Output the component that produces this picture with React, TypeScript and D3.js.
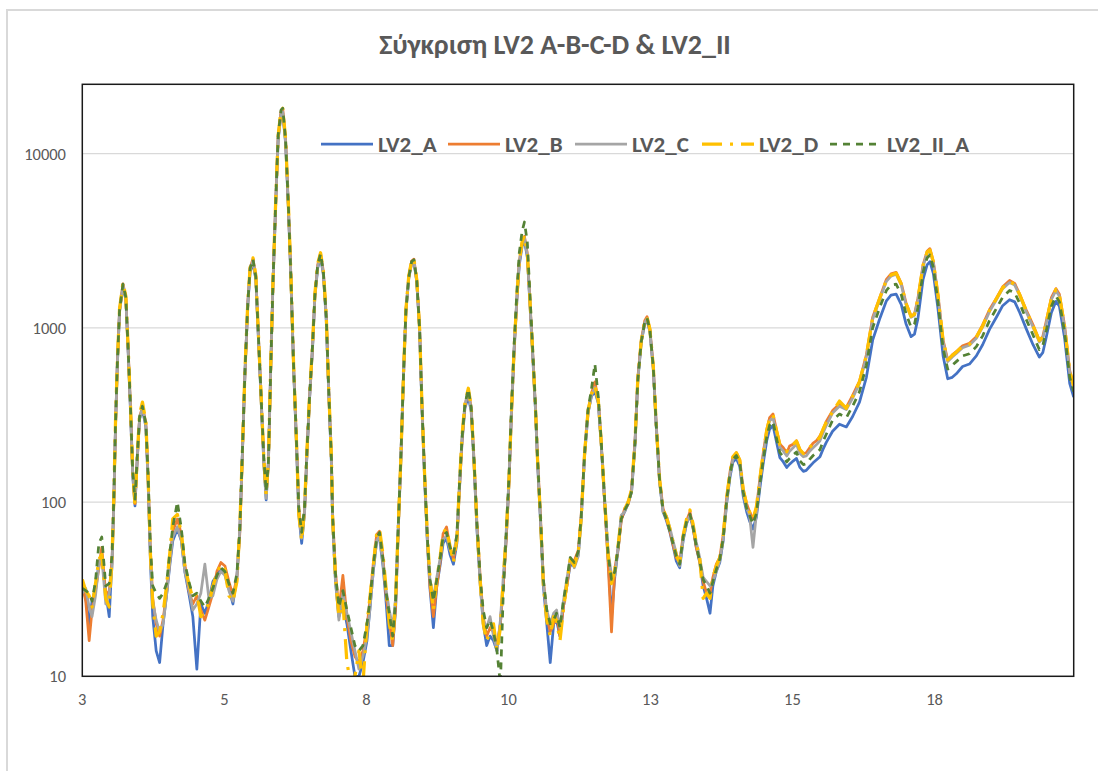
import React from "react";
import * as d3 from "d3";

// 2θ positions (degrees) shared by all five diffraction traces
const twoTheta = [
  3.00, 3.06, 3.12, 3.17, 3.23, 3.29, 3.34, 3.41, 3.47, 3.52,
  3.55, 3.58, 3.61, 3.65, 3.71, 3.76, 3.80, 3.84, 3.88, 3.92,
  3.96, 4.00, 4.05, 4.11, 4.15, 4.19, 4.23, 4.29, 4.35, 4.41,
  4.47, 4.53, 4.58, 4.66, 4.73, 4.79, 4.86, 4.93, 5.00, 5.07,
  5.14, 5.21, 5.28, 5.35, 5.42, 5.49, 5.56, 5.63, 5.70, 5.75,
  5.79, 5.84, 5.89, 5.93, 5.98, 6.03, 6.07, 6.12, 6.17, 6.21,
  6.25, 6.29, 6.33, 6.38, 6.42, 6.47, 6.50, 6.55, 6.60, 6.64,
  6.69, 6.74, 6.78, 6.83, 6.88, 6.92, 6.97, 7.02, 7.06, 7.11,
  7.16, 7.21, 7.26, 7.30, 7.35,
  7.37, 7.42, 7.48, 7.55, 7.62, 7.69, 7.76, 7.83, 7.90, 7.97,
  8.02, 8.08, 8.14, 8.19, 8.25, 8.30, 8.36, 8.42, 8.47, 8.51,
  8.56, 8.61, 8.65, 8.70, 8.75, 8.79, 8.84, 8.89, 8.93, 8.98,
  9.03, 9.07, 9.13, 9.19, 9.25, 9.30, 9.36, 9.42, 9.48, 9.54,
  9.58, 9.63, 9.68, 9.74, 9.79, 9.84, 9.89, 9.95, 10.00, 10.06,
  10.12, 10.18, 10.24, 10.30, 10.35, 10.40, 10.45, 10.49, 10.54, 10.59,
  10.63, 10.68, 10.72, 10.77, 10.81, 10.86, 10.91, 10.95, 11.00, 11.05,
  11.11, 11.17, 11.23, 11.28, 11.34, 11.40, 11.46, 11.52, 11.59, 11.66,
  11.71, 11.77, 11.83, 11.89, 11.95, 12.01, 12.06, 12.12, 12.18, 12.24,
  12.30, 12.36, 12.41, 12.47, 12.53, 12.59, 12.65, 12.70, 12.76, 12.82,
  12.86, 12.91, 12.97, 13.02, 13.08, 13.14, 13.20, 13.26, 13.32, 13.37,
  13.43, 13.49, 13.55, 13.61, 13.66, 13.72, 13.78, 13.84, 13.90, 13.96,
  14.01, 14.07, 14.13, 14.19, 14.25, 14.31, 14.36, 14.42, 14.48, 14.54,
  14.60, 14.65, 14.71, 14.77, 14.83, 14.89, 14.95, 15.00, 15.06, 15.12,
  15.18, 15.24, 15.30, 15.35, 15.41, 15.47, 15.53, 15.59, 15.64, 15.70,
  15.76, 15.82, 15.88, 15.93, 15.99,
  16.10, 16.22, 16.34, 16.45, 16.57, 16.69, 16.80, 16.92, 17.04, 17.12,
  17.21, 17.30, 17.38, 17.47, 17.53, 17.59, 17.68, 17.75, 17.80, 17.86,
  17.94, 18.03, 18.11, 18.19, 18.26, 18.37, 18.49, 18.61, 18.72, 18.84,
  18.96, 19.07, 19.19, 19.28, 19.36, 19.48, 19.60, 19.71, 19.77, 19.83,
  19.92, 20.00, 20.06, 20.15, 20.24, 20.31,
];

const lv2A = [
  33, 28, 20, 27, 32, 44, 50, 30, 22, 47,
  100, 272, 590, 1240, 1720, 1450, 740, 345, 142, 95,
  176, 300, 340, 270, 128, 45, 22, 14, 12, 20,
  29, 44, 60, 70, 60, 40, 30, 22, 11, 26,
  23, 27, 35, 38, 41, 39, 32, 26, 38, 68,
  168, 550, 1360, 2100, 2350, 1900, 950, 400, 165, 103,
  170, 585, 1830, 5450, 12000, 16800, 17000, 11400, 4700, 2000,
  580, 210, 85, 58, 86, 180, 400, 760, 1480, 2200,
  2550, 2000, 1100, 445, 165,
  80, 35, 22, 26, 20, 14, 10, 10, 12, 16,
  24, 40, 60, 62, 43, 28, 15, 15, 24, 60,
  165, 545, 1230, 1920, 2340, 2400, 1830, 960, 350, 128,
  54, 32, 19, 33, 44, 58, 62, 50, 44, 58,
  110, 220, 345, 405, 330, 165, 70, 33, 20, 15,
  17, 16, 14, 20, 33, 60, 128, 300, 740, 1480,
  2300, 2950, 3150, 2550, 1490, 740, 350, 165, 78, 33,
  20, 12, 20, 21, 17, 25, 33, 44, 43, 50,
  80, 185, 325, 405, 430, 370, 215, 100, 48, 22,
  38, 55, 80, 88, 98, 114, 215, 505, 830, 1060,
  1100, 955, 580, 275, 130, 88, 78, 67, 55, 46,
  42, 60, 75, 84, 72, 55, 45, 33, 28, 23,
  33, 40, 45, 60, 98, 140, 170, 178, 160, 108,
  88, 78, 70, 82, 120, 168, 225, 262, 275, 222,
  180, 170, 158, 165, 172, 178, 158, 150, 152, 160,
  168, 175, 182, 200, 220,
  255, 280, 270, 310, 375, 520, 850, 1120, 1430, 1540,
  1560, 1360, 1060, 890, 920, 1130, 1900, 2300, 2400, 2050,
  1290, 690, 510, 520, 545, 600, 620, 690, 800, 980,
  1150, 1340, 1450, 1410, 1240, 990, 800, 680, 720, 880,
  1220, 1420, 1330, 880, 480, 400,
];

const lv2B = [
  34, 27, 16, 24, 31, 42, 55, 29, 31, 46,
  100, 275, 600, 1260, 1790, 1500, 770, 365, 150, 98,
  178, 305, 355, 285, 136, 52, 28, 20, 17, 21,
  30, 47, 68, 80, 65, 44, 31, 26, 29, 24,
  21, 25, 30, 40, 45, 43, 35, 29, 37, 66,
  165, 550, 1400, 2200, 2500, 1980, 990, 420, 175, 112,
  168, 580, 1840, 5600, 12600, 17600, 18000, 12000, 4900, 2100,
  600, 225, 92, 65, 88, 185, 410, 780, 1520, 2300,
  2680, 2100, 1160, 470, 175,
  85, 40, 24, 38, 22, 16, 13, 12, 14, 19,
  27, 44, 65, 68, 48, 30, 21, 15, 25, 60,
  168, 550, 1260, 1970, 2420, 2480, 1880, 990, 365, 135,
  58, 33, 22, 33, 46, 66, 72, 55, 47, 60,
  112, 225, 355, 440, 350, 175, 76, 36, 22, 17,
  19, 18, 15, 20, 33, 60, 130, 305, 750, 1520,
  2400, 3100, 3350, 2680, 1550, 770, 365, 175, 83, 36,
  22, 18, 20, 23, 17, 25, 33, 46, 46, 53,
  83, 192, 335, 420, 490, 385, 222, 100, 45, 18,
  42, 55, 78, 92, 97, 118, 225, 520, 850, 1100,
  1160, 985, 600, 285, 135, 92, 80, 68, 56, 48,
  45, 64, 78, 88, 73, 55, 46, 35, 30, 30,
  37, 44, 48, 65, 106, 150, 182, 192, 175, 118,
  98, 88, 80, 92, 136, 192, 260, 305, 320, 260,
  215, 205, 192, 210, 215, 225, 200, 190, 192, 205,
  218, 225, 240, 260, 290,
  335, 365, 350, 410, 495, 700, 1150, 1480, 1900, 2040,
  2080, 1800, 1400, 1170, 1200, 1480, 2300, 2750, 2850, 2400,
  1550, 850, 655, 700, 730, 790, 815, 890, 1040, 1270,
  1480, 1720, 1870, 1800, 1580, 1270, 1040, 850, 890, 1090,
  1490, 1680, 1560, 1040, 570, 465,
];

const lv2C = [
  30, 32, 25, 22, 29, 44, 48, 26, 30, 42,
  98, 270, 585, 1240, 1760, 1470, 750, 350, 145, 102,
  182, 300, 350, 275, 130, 47, 27, 21, 18, 20,
  29, 46, 63, 72, 60, 40, 32, 24, 26, 30,
  44, 28, 29, 36, 40, 38, 31, 27, 36, 70,
  168, 555, 1370, 2150, 2420, 1930, 960, 410, 168, 105,
  172, 590, 1850, 5500, 12300, 17000, 17400, 11600, 4750, 2030,
  585, 215, 88, 62, 86, 182, 405, 785, 1510, 2250,
  2610, 2040, 1120, 455, 168,
  78, 36, 21, 30, 23, 18, 14, 11, 13, 17,
  24, 40, 60, 64, 44, 32, 24, 19, 28, 65,
  175, 570, 1240, 1940, 2370, 2430, 1850, 965, 355, 130,
  55, 36, 28, 37, 48, 61, 64, 53, 50, 64,
  118, 235, 362, 430, 340, 168, 72, 33, 21, 19,
  22, 17, 14, 21, 37, 66, 136, 315, 770, 1540,
  2380, 3050, 3280, 2620, 1520, 750, 355, 168, 79, 34,
  24, 20, 23, 24, 19, 27, 36, 48, 42, 49,
  78, 184, 325, 410, 455, 372, 215, 105, 52, 38,
  38, 58, 84, 88, 101, 114, 215, 505, 830, 1070,
  1130, 970, 588, 276, 130, 88, 83, 71, 59, 51,
  43, 61, 76, 84, 75, 59, 48, 37, 35, 33,
  35, 40, 46, 61, 100, 145, 176, 186, 168, 113,
  92, 84, 55, 86, 130, 185, 248, 292, 305, 250,
  206, 196, 184, 196, 205, 215, 190, 182, 184, 196,
  205, 214, 225, 248, 275,
  325, 355, 340, 395, 480, 680, 1120, 1450, 1850, 1980,
  2030, 1760, 1370, 1150, 1180, 1450, 2250, 2680, 2760, 2360,
  1520, 830, 640, 680, 712, 770, 795, 870, 1010, 1240,
  1450, 1680, 1820, 1760, 1550, 1240, 1010, 830, 870, 1060,
  1450, 1640, 1520, 1010, 555, 455,
];

const lv2D = [
  36, 31, 29, 25, 34, 47, 50, 28, 25, 49,
  106, 290, 610, 1280, 1820, 1520, 780, 370, 150, 96,
  185, 320, 375, 290, 138, 50, 26, 17, 18, 23,
  33, 52, 80, 85, 66, 43, 34, 28, 30, 22,
  24, 26, 33, 39, 44, 41, 29, 27, 35, 72,
  175, 575, 1410, 2220, 2520, 2000, 1000, 425, 176, 110,
  175, 610, 1900, 5700, 12700, 17800, 18200, 12100, 4950, 2120,
  610, 222, 85, 60, 92, 192, 425, 800, 1560, 2330,
  2700, 2110, 1170, 470, 178,
  82, 37, 22, 27, 12, 9, 10, 14, 9, 20,
  28, 43, 66, 70, 50, 33, 20, 16, 27, 64,
  172, 565, 1270, 1980, 2430, 2490, 1890, 985, 362, 134,
  60, 37, 24, 36, 49, 67, 70, 56, 45, 61,
  118, 240, 370, 450, 355, 172, 75, 34, 20, 16,
  18, 20, 14, 19, 36, 64, 135, 312, 765, 1550,
  2420, 3120, 3380, 2700, 1560, 770, 362, 172, 82, 33,
  21, 17, 22, 21, 16, 24, 34, 47, 43, 52,
  80, 190, 332, 418, 465, 380, 222, 104, 50, 34,
  41, 58, 82, 91, 100, 118, 222, 515, 845, 1090,
  1150, 985, 598, 282, 135, 91, 82, 70, 58, 50,
  45, 64, 80, 90, 76, 58, 48, 28, 30, 28,
  37, 43, 48, 64, 105, 150, 182, 192, 174, 118,
  97, 88, 80, 94, 136, 192, 258, 302, 318, 258,
  214, 204, 195, 208, 214, 224, 200, 190, 194, 206,
  216, 224, 236, 260, 288,
  330, 380, 345, 405, 490, 695, 1140, 1470, 1880, 2010,
  2060, 1780, 1385, 1165, 1195, 1470, 2290, 2720, 2800, 2390,
  1540, 845, 655, 695, 725, 785, 805, 885, 1025, 1260,
  1470, 1700, 1840, 1780, 1570, 1255, 1025, 845, 885, 1075,
  1470, 1660, 1540, 1025, 565, 462,
];

const lv2IIA = [
  32, 31, 30, 27, 35, 58, 63, 33, 34, 50,
  104, 285, 600, 1260, 1780, 1500, 765, 362, 152, 104,
  185, 310, 355, 282, 140, 55, 33, 30, 28, 30,
  34, 52, 72, 100, 70, 45, 35, 29, 30, 27,
  25, 28, 32, 38, 42, 40, 34, 30, 39, 70,
  172, 560, 1380, 2200, 2480, 1960, 980, 418, 178, 115,
  172, 590, 1860, 5650, 12800, 17800, 18200, 12000, 4850, 2080,
  598, 220, 92, 67, 93, 190, 418, 790, 1530, 2290,
  2660, 2080, 1150, 465, 175,
  84, 39, 25, 31, 24, 19, 15, 14, 15, 20,
  27, 43, 62, 67, 47, 31, 23, 17, 27, 64,
  172, 560, 1250, 1950, 2400, 2460, 1870, 980, 362, 136,
  58, 36, 27, 36, 48, 64, 67, 55, 50, 65,
  118, 232, 365, 445, 350, 174, 76, 36, 24, 19,
  21, 18, 14, 9, 30, 65, 140, 330, 800, 1650,
  2700, 3600, 4050, 3100, 1700, 800, 370, 175, 83, 36,
  24, 20, 21, 23, 19, 27, 36, 48, 45, 52,
  82, 190, 340, 445, 620, 400, 225, 104, 50, 36,
  40, 57, 80, 90, 98, 115, 218, 505, 835, 1080,
  1140, 975, 590, 280, 133, 90, 80, 68, 57, 49,
  44, 63, 77, 85, 73, 56, 46, 36, 33, 30,
  35, 41, 47, 62, 102, 146, 176, 185, 168, 114,
  92, 84, 75, 86, 126, 176, 236, 276, 290, 232,
  192, 182, 170, 178, 186, 194, 172, 164, 166, 176,
  185, 192, 200, 222, 245,
  295, 320, 305, 355, 430, 610, 1000, 1300, 1640, 1760,
  1780, 1550, 1210, 1010, 1050, 1300, 2080, 2520, 2620, 2220,
  1400, 760, 580, 610, 640, 690, 710, 780, 900, 1100,
  1290, 1500, 1640, 1590, 1400, 1120, 910, 750, 790, 960,
  1330, 1520, 1410, 950, 520, 430,
];

const seriesNames = ["LV2_A", "LV2_B", "LV2_C", "LV2_D", "LV2_II_A"];
const yTickValues = [10, 100, 1000, 10000];
const xTickValues = [3, 5.48, 7.96, 10.44, 12.92, 15.4, 17.88];
const chartTitle = "Σύγκριση LV2 A-B-C-D & LV2_II";

const FONT = "Carlito, Calibri, Lato, 'Open Sans', sans-serif";

const styles = [
  { color: "#4472C4", width: 2.75, dash: undefined as string | undefined },
  { color: "#ED7D31", width: 2.75, dash: undefined },
  { color: "#A5A5A5", width: 2.75, dash: undefined },
  { color: "#FFC000", width: 3.25, dash: "20 8 3 8" },
  { color: "#548235", width: 2.75, dash: "7 6" },
];

// legend entries: swatch start x (text follows the swatch)
const legendX = [321, 448, 575, 702, 830];

export default function App() {
  const W = 1098;
  const H = 771;
  const plot = { left: 82.3, right: 1073.7, top: 84.3, bottom: 676.3 };

  const x = d3.scaleLinear().domain([3, 20.31]).range([plot.left, plot.right]);
  const y = d3.scaleLog().domain([10, 25000]).range([plot.bottom, plot.top]);

  const allSeries = [lv2A, lv2B, lv2C, lv2D, lv2IIA];
  const line = d3
    .line<number>()
    .x((_, i) => x(twoTheta[i]))
    .y((v) => y(Math.max(v, 1)));

  const fmt = d3.format(".0f");

  return (
    <svg
      width={W}
      height={H}
      style={{ position: "absolute", left: 0, top: 0, background: "#fff" }}
    >
      <rect x={0} y={0} width={W} height={H} fill="#fff" />
      <rect x={7} y={10} width={1120} height={800} fill="#fff" stroke="#d9d9d9" strokeWidth={2} />
      <defs>
        <clipPath id="plotClip">
          <rect x={plot.left} y={plot.top} width={plot.right - plot.left} height={plot.bottom - plot.top} />
        </clipPath>
      </defs>

      <text
        x={555}
        y={54}
        textAnchor="middle"
        fontFamily={FONT}
        fontWeight={700}
        fontSize={28}
        fill="#595959"
      >
        {chartTitle}
      </text>

      {/* horizontal gridlines */}
      {yTickValues.slice(1).map((t) => (
        <line key={t} x1={plot.left} x2={plot.right} y1={y(t)} y2={y(t)} stroke="#d9d9d9" strokeWidth={1.3} />
      ))}

      {/* y tick labels */}
      {yTickValues.map((t) => (
        <text
          key={t}
          x={66}
          y={y(t)}
          textAnchor="end"
          dominantBaseline="central"
          fontFamily={FONT}
          fontSize={16.5}
          fill="#595959"
        >
          {t}
        </text>
      ))}

      {/* x tick labels */}
      {xTickValues.map((t) => (
        <text
          key={t}
          x={x(t)}
          y={699}
          textAnchor="middle"
          dominantBaseline="central"
          fontFamily={FONT}
          fontSize={16.5}
          fill="#595959"
        >
          {fmt(t)}
        </text>
      ))}

      {/* legend */}
      {seriesNames.map((name, i) => (
        <g key={name}>
          <line
            x1={legendX[i]}
            x2={legendX[i] + 52}
            y1={144}
            y2={144}
            stroke={styles[i].color}
            strokeWidth={styles[i].width}
            strokeDasharray={styles[i].dash}
          />
          <text
            x={legendX[i] + 57}
            y={144}
            dominantBaseline="central"
            fontFamily={FONT}
            fontWeight={700}
            fontSize={23}
            fill="#595959"
          >
            {name}
          </text>
        </g>
      ))}

      {/* traces */}
      <g clipPath="url(#plotClip)">
        {allSeries.map((vals, i) => (
          <path
            key={seriesNames[i]}
            d={line(vals) || ""}
            fill="none"
            stroke={styles[i].color}
            strokeWidth={styles[i].width}
            strokeDasharray={styles[i].dash}
            strokeLinejoin="round"
          />
        ))}
      </g>

      {/* plot frame */}
      <rect
        x={plot.left}
        y={plot.top}
        width={plot.right - plot.left}
        height={plot.bottom - plot.top}
        fill="none"
        stroke="#1a1a1a"
        strokeWidth={1.5}
      />
    </svg>
  );
}
